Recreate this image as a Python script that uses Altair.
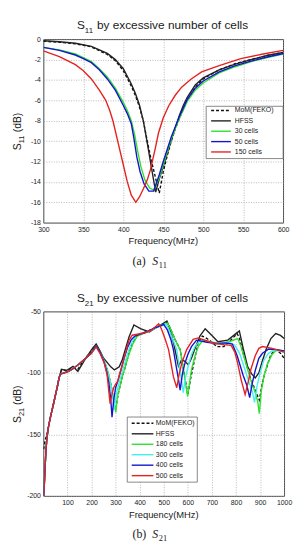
import altair as alt
import pandas as pd

SANS = "Liberation Sans"
SERIF = "Liberation Serif"

# ---------------- S11 sweep, 300-600 MHz ----------------
s11_names = ["MoM(FEKO)", "HFSS", "30 cells", "50 cells", "150 cells"]
s11_colors = ["#111111", "#222222", "#2fe02f", "#1414cc", "#e52222"]

s11_mom_f = [300, 320, 340, 360, 380, 390, 400, 410, 415, 420, 425, 430, 435, 440, 445,
             450, 455, 460, 465, 470, 475, 480, 490, 500, 520, 540, 560, 580, 600]
s11_mom_db = [-0.2, -0.3, -0.45, -0.75, -1.5, -2.1, -3.1, -4.6, -5.5, -6.6, -8.0, -10.0, -11.9, -13.5, -15.1,
              -13.0, -11.4, -10.0, -8.8, -7.8, -6.9, -6.0, -4.7, -3.9, -3.0, -2.4, -2.0, -1.6, -1.3]

s11_hfss_f = [300, 320, 340, 360, 380, 390, 400, 410, 415, 420, 425, 430, 435, 440.5, 445,
              450, 455, 460, 465, 470, 475, 480, 490, 500, 520, 540, 560, 580, 600]
s11_hfss_db = [-0.15, -0.25, -0.4, -0.7, -1.4, -2.0, -2.9, -4.4, -5.3, -6.4, -8.0, -10.2, -12.5, -15.0, -13.7,
               -12.5, -11.2, -9.9, -8.7, -7.5, -6.5, -5.7, -4.5, -3.8, -3.0, -2.45, -2.0, -1.6, -1.3]

s11_c30_f = [300, 320, 340, 350, 360, 370, 380, 390, 400, 405, 410, 414, 418, 422, 427, 433, 438,
             445, 450, 460, 470, 480, 490, 500, 520, 540, 560, 580, 600]
s11_c30_db = [-0.8, -1.05, -1.45, -1.8, -2.2, -2.9, -3.7, -4.8, -6.2, -7.0, -8.0, -9.3, -11.0, -12.5, -13.8, -14.6, -14.8,
              -13.6, -12.3, -9.8, -7.8, -6.1, -5.0, -4.3, -3.3, -2.7, -2.2, -1.8, -1.45]

s11_c50_f = [300, 320, 340, 350, 360, 370, 380, 390, 400, 405, 410, 413, 417, 421, 426, 432, 438,
             445, 450, 460, 470, 480, 490, 500, 520, 540, 560, 580, 600]
s11_c50_db = [-0.8, -1.1, -1.55, -1.9, -2.3, -3.0, -3.9, -5.0, -6.5, -7.3, -8.3, -9.6, -11.6, -13.0, -14.2, -14.9, -14.9,
              -13.3, -12.0, -9.6, -7.6, -5.9, -4.8, -4.1, -3.2, -2.6, -2.15, -1.75, -1.4]

s11_c150_f = [300, 320, 340, 350, 360, 370, 378, 383, 387, 393, 399, 405, 410, 415.6, 420, 425, 430, 434,
              440, 444, 450, 457, 465, 473, 485, 498, 520, 547, 575, 600]
s11_c150_db = [-1.15, -1.7, -2.5, -3.1, -3.9, -5.0, -6.0, -7.0, -8.0, -10.0, -12.0, -14.0, -15.3, -16.0, -15.5, -14.7, -13.8, -12.8,
               -10.7, -9.2, -7.7, -6.5, -5.5, -4.7, -3.9, -3.2, -2.6, -1.9, -1.45, -1.1]

s11_f = [s11_mom_f, s11_hfss_f, s11_c30_f, s11_c50_f, s11_c150_f]
s11_db = [s11_mom_db, s11_hfss_db, s11_c30_db, s11_c50_db, s11_c150_db]

s11_x_ticks = [300, 350, 400, 450, 500, 550, 600]
s11_y_ticks = [-18, -16, -14, -12, -10, -8, -6, -4, -2, 0]

# ---------------- S21 sweep, 0-1000 MHz ----------------
s21_names = ["MoM(FEKO)", "HFSS", "180 cells", "300 cells", "400 cells", "500 cells"]
s21_colors = ["#111111", "#222222", "#2fe02f", "#44eeee", "#1414cc", "#e52222"]

s21_mom_f = [1, 7, 14, 20, 28, 35, 42, 50, 58, 65, 70, 75, 96, 123, 143, 170, 200, 219, 235, 254, 268,
             281, 292, 300, 306, 312, 325, 340, 355, 370, 390, 420, 450, 480, 513, 528, 545, 568, 580,
             590, 600, 610, 622, 643, 660, 680, 700, 720, 750, 780, 805, 815, 830, 860, 880, 897, 908,
             920, 945, 965, 985, 1000]
s21_mom_db = [-162, -155, -150, -145, -137, -131, -125, -118, -111, -104, -101, -97.5, -98, -95.5, -97, -89, -82, -78, -83.5, -91, -99,
              -110, -122, -130, -122, -116, -105, -95, -84, -76, -69, -67, -64.5, -62, -58.5, -64, -72, -81, -95,
              -106, -118, -106, -94.7, -75, -70, -72, -75, -78.6, -78.5, -73, -68, -72, -84, -104, -114, -122, -110,
              -100, -85, -81, -84, -88]

s21_hfss_f = [1, 4, 7, 10, 14, 20, 28, 35, 42, 50, 58, 65, 70, 75, 96, 123, 143, 170, 200, 219, 235, 250,
              280, 295, 315, 328, 340, 356, 376, 403, 440, 470, 495, 513, 525, 540, 552, 561, 574, 588,
              602, 615, 630, 650, 672, 698, 725, 766, 800, 814, 830, 848, 866, 880, 895, 910, 925, 945,
              965, 985, 1000]
s21_hfss_db = [-200, -190, -177, -165, -154, -145, -137, -131, -125, -118, -111, -104, -101, -97, -98, -94.7, -98.7, -90, -81, -76.5, -82, -88,
               -95, -97.5, -95, -89, -81, -70.6, -61, -64, -66.6, -63, -60, -57.8, -64, -75, -86, -94.5, -89.4, -90.5,
               -93.4, -88, -80, -70, -64, -69.2, -74.6, -73.3, -68, -65.8, -80, -94.5, -101, -104, -100, -90, -81, -72,
               -68, -69.5, -72]

s21_c180_f = [1, 4, 7, 10, 14, 20, 28, 35, 42, 50, 58, 65, 70, 100, 120, 143, 170, 199, 219, 235, 254, 268,
              281, 292, 301, 306, 310, 325, 340, 355, 370, 390, 420, 450, 480, 515, 528, 545, 568, 580,
              588, 599, 607, 615, 630, 643, 663, 700, 740, 780, 807, 820, 835, 860, 880, 890, 897, 905,
              915, 930, 950, 971, 1000]
s21_c180_db = [-200, -190, -177, -165, -154, -145, -137, -131, -125, -118, -111, -104, -101, -99, -97, -93.5, -89, -84, -79, -83.5, -91, -99,
               -110, -122, -132, -122, -117, -105, -95, -85, -77, -70, -67.5, -65, -62, -59.5, -64, -72, -81.3, -95,
               -105, -119, -108, -97.4, -86, -78.6, -73.3, -75, -76, -74, -72, -78, -88, -105, -116, -123, -133, -115,
               -104, -93, -85, -81, -82.5]

s21_c300_f = [1, 4, 7, 10, 14, 20, 28, 35, 42, 50, 58, 65, 70, 100, 120, 143, 170, 199, 219, 235, 252, 265,
              278, 288, 294, 300, 305, 320, 335, 350, 365, 385, 410, 440, 470, 500, 508, 520, 540, 554,
              566, 574, 581, 590, 602, 615, 629, 650, 690, 730, 770, 795, 815, 835, 855, 868, 877, 888,
              900, 915, 935, 957, 1000]
s21_c300_db = [-200, -190, -177, -165, -154, -145, -137, -131, -125, -118, -111, -104, -101, -99, -97, -93.5, -89, -84, -78.3, -83, -90, -98,
               -108, -118, -130, -120, -115, -104, -94, -84, -76, -69.5, -68, -66, -63, -61, -60, -64, -74, -81,
               -97, -106, -116, -104, -94, -85, -78.6, -74, -75, -76, -75, -77.5, -84, -96, -108, -115, -124, -110,
               -100, -90, -84, -81.3, -83]

s21_c400_f = [1, 4, 7, 10, 14, 20, 28, 35, 42, 50, 58, 65, 70, 100, 120, 143, 170, 199, 219, 235, 250, 262,
              272, 280, 285, 292, 300, 310, 320, 335, 350, 365, 380, 400, 430, 460, 490, 500, 515, 530,
              540, 552, 561, 568, 578, 588, 600, 615, 636, 680, 720, 760, 785, 805, 830, 845, 857, 868,
              880, 895, 910, 937, 970, 1000]
s21_c400_db = [-200, -190, -177, -165, -154, -145, -137, -131, -125, -118, -111, -104, -101, -99, -97, -93.5, -89, -84, -78, -83, -90, -98,
               -108, -122, -136, -122, -112, -106, -99, -88, -79, -73, -70, -68.5, -66.5, -63.5, -61.5, -60.5, -65, -73,
               -81, -95, -105, -114, -100, -92, -85, -78.6, -73.3, -75, -76, -75.5, -76.5, -86, -102, -110, -120, -108,
               -98, -88, -84, -80.5, -81, -82]

s21_c500_f = [1, 4, 7, 10, 14, 20, 28, 35, 42, 50, 58, 65, 70, 100, 120, 143, 170, 199, 219, 235, 253, 265,
              277, 284, 292, 300, 308, 318, 328, 342, 356, 369, 390, 420, 450, 479, 490, 505, 520, 540,
              554, 565, 575, 595, 622, 643, 680, 711, 750, 780, 795, 807, 822, 838, 850, 862, 880, 895,
              910, 950, 1000]
s21_c500_db = [-200, -190, -177, -165, -154, -145, -137, -131, -125, -118, -111, -104, -101, -99, -97, -93.5, -89, -84, -78.6, -84, -92, -102,
               -125, -118, -112, -109, -107, -100, -93.4, -83, -73.3, -69.3, -68.5, -67.5, -65, -60, -64, -72, -81, -103,
               -112, -100, -92, -81, -72.7, -71.5, -74, -76, -77, -77.5, -83, -92, -106, -117.5, -108, -97, -86, -80,
               -78.5, -80, -83]

s21_f = [s21_mom_f, s21_hfss_f, s21_c180_f, s21_c300_f, s21_c400_f, s21_c500_f]
s21_db = [s21_mom_db, s21_hfss_db, s21_c180_db, s21_c300_db, s21_c400_db, s21_c500_db]

s21_x_ticks = [100, 200, 300, 400, 500, 600, 700, 800, 900, 1000]
s21_y_ticks = [-200, -150, -100, -50]

MOM_DASH = [3, 2]


def blank():
    return alt.Data(values=[{}])


def text_at(txt, x, y, size, font=SANS, align="left", angle=None, style=None, baseline="alphabetic"):
    kw = dict(text=txt, font=font, fontSize=size, align=align, baseline=baseline, color="#1a1a1a")
    if angle is not None:
        kw["angle"] = angle
    if style is not None:
        kw["fontStyle"] = style
    return alt.Chart(blank()).mark_text(**kw).encode(x=alt.value(x), y=alt.value(y))


def panel(names, colors, freqs, dbs, xdom, ydom, xticks, yticks, w, h, sub, leg, anchor=False):
    xs = alt.Scale(domain=xdom, nice=False, zero=False)
    ys = alt.Scale(domain=ydom, nice=False, zero=False)
    xax = alt.Axis(values=xticks, title=None, grid=True, ticks=False, domain=False,
                   labelExpr="datum.value + ''", labelFlush=False, labelOverlap=False,
                   labelPadding=3)
    yax = alt.Axis(values=yticks, title=None, grid=True, ticks=False, domain=False,
                   labelExpr="datum.value + ''", labelFlush=False, labelOverlap=False,
                   labelPadding=3)
    layers = []
    for name, col, f, d in zip(names, colors, freqs, dbs):
        df = pd.DataFrame({"f": f, "db": d})
        mk = dict(color=col, strokeWidth=1.4, clip=True)
        if name.startswith("MoM"):
            mk["strokeDash"] = MOM_DASH
        layers.append(
            alt.Chart(df).mark_line(**mk).encode(
                x=alt.X("f:Q", scale=xs, axis=xax),
                y=alt.Y("db:Q", scale=ys, axis=yax),
            )
        )

    # legend box and entries
    bx0, bx1, by0, by1, rows, lx0, lx1, tx = leg
    layers.append(
        alt.Chart(blank()).mark_rect(fill="white", stroke="#555555", strokeWidth=0.7).encode(
            x=alt.value(bx0), x2=alt.value(bx1), y=alt.value(by0), y2=alt.value(by1)
        )
    )
    for name, col, ry in zip(names, colors, rows):
        rk = dict(color=col, strokeWidth=1.4)
        if name.startswith("MoM"):
            rk["strokeDash"] = MOM_DASH
        layers.append(
            alt.Chart(blank()).mark_rule(**rk).encode(
                x=alt.value(lx0), x2=alt.value(lx1), y=alt.value(ry)
            )
        )
        layers.append(text_at(name, tx, ry, 7, baseline="middle"))

    # panel title with subscript
    layers.append(text_at("S", 34, -10, 12))
    layers.append(text_at(sub, 42, -6, 8))
    layers.append(text_at("by excessive number of cells", 54.2, -10, 12))

    # y-axis title, rotated, with subscript
    yc = h / 2
    layers.append(text_at("S", -23, yc + 19.5, 10.5, angle=270))
    layers.append(text_at(sub, -20, yc + 12.5, 7.5, angle=270))
    layers.append(text_at("(dB)", -23, yc + 1.3, 10.5, angle=270))

    # x-axis title
    layers.append(text_at("Frequency(MHz)", w / 2, h + 22, 9.5, align="center"))

    # caption below the panel
    cap = "(a)" if sub == "11" else "(b)"
    layers.append(text_at(cap, 90.3, h + 42.5, 12, font=SERIF))
    layers.append(text_at("S", 110.3, h + 42.5, 12, font=SERIF, style="italic"))
    layers.append(text_at(sub, 117, h + 45.5, 8.5, font=SERIF))

    if anchor:
        layers.append(
            alt.Chart(blank()).mark_rect(opacity=0).encode(
                x=alt.value(-43), x2=alt.value(0), y=alt.value(-35), y2=alt.value(0)
            )
        )

    return alt.layer(*layers).properties(width=w, height=h)


top = panel(
    s11_names, s11_colors, s11_f, s11_db,
    [300, 600], [-18, 0], s11_x_ticks, s11_y_ticks, 243, 186, "11",
    (165, 243, 68, 121, [72.3, 82.8, 93.3, 103.8, 114.3], 170, 190, 194),
    anchor=True,
)

bottom = panel(
    s21_names, s21_colors, s21_f, s21_db,
    [0, 1000], [-200, -50], s21_x_ticks, s21_y_ticks, 244, 187, "21",
    (85, 156, 107, 173, [113.3, 124, 134.6, 145.2, 155.8, 166.4], 89.5, 111.5, 114),
)

chart = (
    alt.vconcat(top, bottom, spacing=90, bounds="flush")
    .properties(padding=0, background="white")
    .configure_view(stroke="#333333", strokeWidth=0.9)
    .configure_axis(
        labelFont=SANS, labelFontSize=7, labelColor="#222222",
        gridColor="#9a9a9a", gridWidth=0.7, gridDash=[1, 1.5],
    )
)

chart.save("out.html", embed_options={"renderer": "svg", "actions": False})
